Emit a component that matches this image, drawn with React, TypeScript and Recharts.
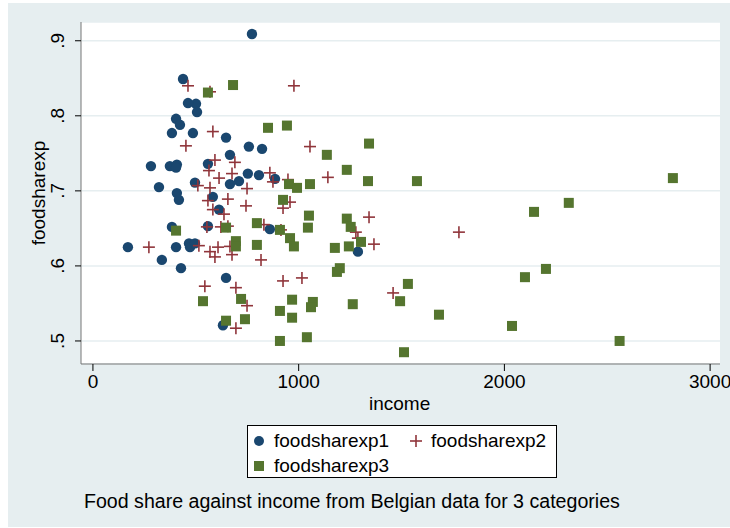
import { ScatterChart, Scatter, XAxis, YAxis, CartesianGrid } from "recharts";

const group1: [number, number][] = [
  [773, 0.909], [438, 0.849], [501, 0.816], [506, 0.805], [462, 0.817], [404, 0.796], [423, 0.788],
  [384, 0.777], [486, 0.777], [647, 0.771], [758, 0.759], [822, 0.756], [666, 0.748], [559, 0.736],
  [282, 0.733], [374, 0.733], [408, 0.735], [404, 0.731], [807, 0.721], [885, 0.716], [753, 0.723],
  [710, 0.713], [496, 0.711], [666, 0.709], [321, 0.705], [408, 0.697], [583, 0.692], [418, 0.688],
  [613, 0.675], [384, 0.652], [559, 0.653], [860, 0.649], [170, 0.625], [404, 0.625], [467, 0.63],
  [472, 0.625], [496, 0.63], [335, 0.608], [428, 0.597], [647, 0.584], [632, 0.521], [1288, 0.619],
];
const group2: [number, number][] = [
  [462, 0.84], [569, 0.832], [977, 0.84], [452, 0.76], [583, 0.779], [1055, 0.759], [593, 0.741],
  [690, 0.738], [564, 0.727], [676, 0.723], [613, 0.717], [749, 0.703], [510, 0.707], [860, 0.724],
  [875, 0.712], [948, 0.715], [1142, 0.718], [569, 0.704], [924, 0.677], [958, 0.685], [559, 0.687],
  [656, 0.689], [744, 0.68], [583, 0.675], [637, 0.669], [554, 0.652], [622, 0.652], [656, 0.653],
  [666, 0.626], [608, 0.625], [272, 0.625], [569, 0.619], [593, 0.612], [817, 0.608], [515, 0.627],
  [676, 0.615], [914, 0.648], [831, 0.655], [1342, 0.665], [1278, 0.645], [1366, 0.629], [1288, 0.637],
  [1779, 0.645], [544, 0.573], [695, 0.571], [749, 0.547], [695, 0.517], [1016, 0.584], [924, 0.58],
  [1459, 0.564],
];
const group3: [number, number][] = [
  [559, 0.831], [681, 0.841], [851, 0.784], [943, 0.787], [1342, 0.763], [1137, 0.748], [1234, 0.728],
  [1575, 0.713], [1337, 0.713], [1055, 0.709], [953, 0.709], [992, 0.704], [2819, 0.717], [2313, 0.684],
  [2144, 0.672], [1050, 0.667], [924, 0.688], [797, 0.657], [404, 0.647], [1234, 0.663], [1253, 0.652],
  [1045, 0.651], [909, 0.648], [958, 0.637], [695, 0.633], [695, 0.626], [977, 0.626], [1244, 0.626],
  [1303, 0.632], [797, 0.628], [647, 0.651], [1176, 0.624], [1200, 0.597], [1186, 0.592], [2202, 0.596],
  [2100, 0.585], [1531, 0.576], [535, 0.553], [720, 0.556], [1069, 0.552], [968, 0.555], [1060, 0.545],
  [1263, 0.549], [1493, 0.553], [1682, 0.535], [739, 0.529], [968, 0.531], [909, 0.54], [647, 0.527],
  [909, 0.5], [1040, 0.505], [1512, 0.485], [2037, 0.52], [2560, 0.5],
];
const xTicks = [0, 1000, 2000, 3000];
const yTicks = [0.5, 0.6, 0.7, 0.8, 0.9];
const yTickLabels = [".5", ".6", ".7", ".8", ".9"];
const seriesNames = ["foodsharexp1", "foodsharexp2", "foodsharexp3"];

const NAVY = "#1a476f";
const MAROON = "#90353b";
const GREEN = "#55752f";
const BG = "#e6eef0";
const FONT = "'Liberation Sans', Arial, sans-serif";
const FS = 19;

const toPts = (g: [number, number][]) => g.map(([x, y]) => ({ x, y }));

const Circle = (p: any) => <circle cx={p.cx} cy={p.cy} r={5.2} fill={NAVY} />;
const Plus = (p: any) => (
  <g stroke={MAROON} strokeWidth={1.6}>
    <line x1={p.cx - 6} x2={p.cx + 6} y1={p.cy} y2={p.cy} />
    <line x1={p.cx} x2={p.cx} y1={p.cy - 6} y2={p.cy + 6} />
  </g>
);
const Square = (p: any) => <rect x={p.cx - 5} y={p.cy - 5} width={10} height={10} fill={GREEN} />;

const YTick = (p: any) => {
  const i = yTicks.indexOf(p.payload.value);
  const x = p.x - 9;
  return (
    <text x={x} y={p.y} transform={`rotate(-90 ${x} ${p.y})`} textAnchor="middle" fontSize={FS} fill="#000" fontFamily={FONT}>
      {yTickLabels[i]}
    </text>
  );
};

export default function App() {
  return (
    <div style={{ position: "absolute", left: 0, top: 0, width: 730, height: 528, backgroundColor: "#ffffff" }}>
      <svg width={730} height={528} style={{ position: "absolute", left: 0, top: 0 }}>
        <rect x={8} y={3} width={722} height={524} fill={BG} />
        <rect x={81} y={22} width={639} height={342} fill="#ffffff" />
      </svg>
      <div style={{ position: "absolute", left: 0, top: 0 }}>
        <ScatterChart width={730} height={528} margin={{ top: 22, right: 10, bottom: 0, left: 0 }}>
          <CartesianGrid horizontal vertical={false} stroke={BG} strokeWidth={1.5} />
          <XAxis type="number" dataKey="x" domain={[-58, 3048]} ticks={xTicks} allowDataOverflow height={164}
            tick={{ fontSize: FS, fill: "#000", fontFamily: FONT }} tickSize={7} tickMargin={4}
            axisLine={{ stroke: "#777" }} tickLine={{ stroke: "#000" }} />
          <YAxis type="number" dataKey="y" domain={[0.4693, 0.925]} ticks={yTicks} allowDataOverflow width={81}
            tick={<YTick />} tickSize={6} axisLine={{ stroke: "#777" }} tickLine={{ stroke: "#000" }} />
          <Scatter data={toPts(group1)} shape={<Circle />} isAnimationActive={false} />
          <Scatter data={toPts(group2)} shape={<Plus />} isAnimationActive={false} />
          <Scatter data={toPts(group3)} shape={<Square />} isAnimationActive={false} />
        </ScatterChart>
      </div>
      <div style={{ position: "absolute", left: 369, top: 393, fontFamily: FONT, fontSize: FS }}>income</div>
      <div style={{ position: "absolute", left: 39, top: 193, fontFamily: FONT, fontSize: FS, transform: "translate(-50%,-50%) rotate(-90deg)", whiteSpace: "nowrap" }}>foodsharexp</div>
      <div style={{ position: "absolute", left: 247, top: 425, width: 310, height: 53, background: "#fff", border: "1px solid #000", fontFamily: FONT, fontSize: 19, boxSizing: "border-box" }}>
        <div style={{ position: "absolute", left: 4, top: 4, display: "flex", alignItems: "center" }}>
          <svg width={14} height={14}><circle cx={7} cy={7} r={5} fill={NAVY} /></svg>
          <span style={{ marginLeft: 8 }}>{seriesNames[0]}</span>
        </div>
        <div style={{ position: "absolute", left: 161, top: 4, display: "flex", alignItems: "center" }}>
          <svg width={14} height={14}><g stroke={MAROON} strokeWidth={1.6}><line x1={1} x2={13} y1={7} y2={7} /><line x1={7} x2={7} y1={1} y2={13} /></g></svg>
          <span style={{ marginLeft: 8 }}>{seriesNames[1]}</span>
        </div>
        <div style={{ position: "absolute", left: 4, top: 29, display: "flex", alignItems: "center" }}>
          <svg width={14} height={14}><rect x={2} y={2} width={10} height={10} fill={GREEN} /></svg>
          <span style={{ marginLeft: 8 }}>{seriesNames[2]}</span>
        </div>
      </div>
      <div style={{ position: "absolute", left: 84, top: 490, fontFamily: FONT, fontSize: 19.6 }}>
        Food share against income from Belgian data for 3 categories
      </div>
    </div>
  );
}
